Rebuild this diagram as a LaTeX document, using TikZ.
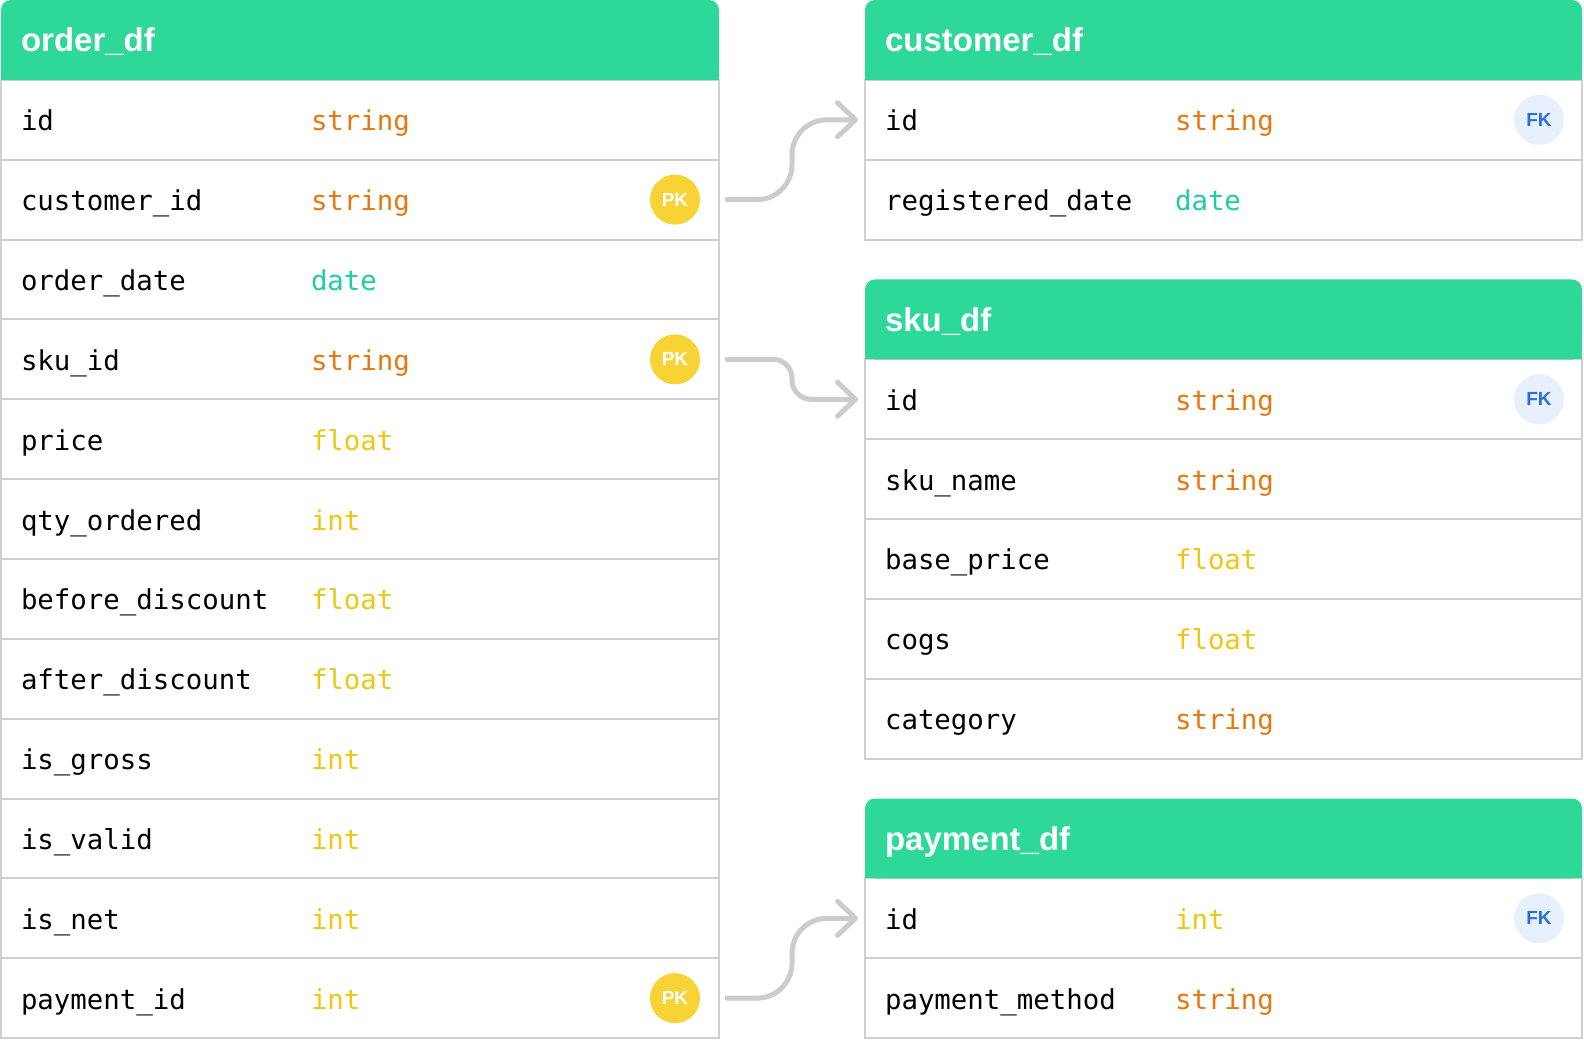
\documentclass[tikz,border=0pt]{standalone}
\usepackage{fontspec}
\setsansfont{Liberation Sans}
\setmonofont{DejaVu Sans Mono}
\usepackage{tikz}
\usetikzlibrary{arrows.meta}

\definecolor{hdrgreen}{HTML}{2ED898}
\definecolor{rowline}{HTML}{CFCFCF}
\definecolor{linkgray}{HTML}{CCCCCC}
\definecolor{tstring}{HTML}{E8770E}
\definecolor{tdate}{HTML}{1ECDA6}
\definecolor{tfloat}{HTML}{EDC714}
\definecolor{tint}{HTML}{EDC714}
\definecolor{pkyellow}{HTML}{F7D335}
\definecolor{fkblue}{HTML}{2A6FDB}
\definecolor{fkbg}{HTML}{E8F0FD}

\begin{document}
\begin{tikzpicture}[x=0.5pt, y=-0.5pt,
	tbl head/.style={fill=hdrgreen, text=white, anchor=north west, rounded corners=5pt,
		font=\sffamily\bfseries\fontsize{16.5}{19}\selectfont, text height=12pt, text depth=0pt,
		inner xsep=10pt, inner ysep=0pt, outer sep=0pt, minimum height=39.925pt, text width=#1, align=left},
	field/.style={draw=rowline, line width=1pt, fill=white, anchor=north west, outer sep=0pt,
		font=\ttfamily\fontsize{13.7}{16}\selectfont, text height=11pt, text depth=0pt,
		inner xsep=10pt, inner ysep=0pt, minimum height=39.925pt, text width=#1, align=left},
	badge/.style={circle, minimum size=25pt, inner sep=0pt, font=\sffamily\bfseries\fontsize{9.5}{10}\selectfont},
	pk/.style={badge, fill=pkyellow, text=white},
	fk/.style={badge, fill=fkbg, text=fkblue},
	link/.style={draw=linkgray, line width=2.5pt, line cap=round, rounded corners=#1,
		-{Straight Barb[length=9pt, width=17pt, round]}}]

	\path [fill=white] (0,0) rectangle (1584,1040);

	\foreach \fname/\ftype [count=\i] in {id/string, customer\_id/string, order\_date/date, sku\_id/string,
		price/float, qty\_ordered/int, before\_discount/float, after\_discount/float,
		is\_gross/int, is\_valid/int, is\_net/int, payment\_id/int}
		\node [field=339pt] (o\i) at (1,\i*79.85) {\makebox[145pt][l]{\fname}\textcolor{t\ftype}{\ftype}};
	\node [tbl head=339pt] (oh) at (1,0) {order\_df};

	\foreach \fname/\ftype [count=\i] in {id/string, registered\_date/date}
		\node [field=338.5pt] (c\i) at (865,\i*79.85) {\makebox[145pt][l]{\fname}\textcolor{t\ftype}{\ftype}};
	\node [tbl head=338.5pt] (ch) at (865,0) {customer\_df};

	\foreach \fname/\ftype [count=\i] in {id/string, sku\_name/string, base\_price/float, cogs/float, category/string}
		\node [field=338.5pt] (s\i) at (865,3.5*79.85+\i*79.85) {\makebox[145pt][l]{\fname}\textcolor{t\ftype}{\ftype}};
	\node [tbl head=338.5pt] (sh) at (865,3.5*79.85) {sku\_df};

	\foreach \fname/\ftype [count=\i] in {id/int, payment\_method/string}
		\node [field=338.5pt] (p\i) at (865,10*79.85+\i*79.85) {\makebox[145pt][l]{\fname}\textcolor{t\ftype}{\ftype}};
	\node [tbl head=338.5pt] (ph) at (865,10*79.85) {payment\_df};

	\foreach \h in {oh,ch,sh,ph} {
		\fill [hdrgreen] (\h.south west) rectangle +(10,-10);
		\fill [hdrgreen] (\h.south east) rectangle +(-10,-10);
	}

	\node [pk] (pk1) at ([xshift=-22pt]o2.east) {PK};
	\node [pk] (pk2) at ([xshift=-22pt]o4.east) {PK};
	\node [pk] (pk3) at ([xshift=-22pt]o12.east) {PK};
	\node [fk] (fk1) at ([xshift=-21.5pt]c1.east) {FK};
	\node [fk] (fk2) at ([xshift=-21.5pt]s1.east) {FK};
	\node [fk] (fk3) at ([xshift=-21.5pt]p1.east) {FK};

	\draw [link=17.5pt] ([xshift=4pt]o2.east) -- ++(65,0) |- ([xshift=-3.5pt]c1.west);
	\draw [link=9.5pt] ([xshift=4pt]o4.east) -- ++(65,0) |- ([xshift=-3.5pt]s1.west);
	\draw [link=17.5pt] ([xshift=4pt]o12.east) -- ++(65,0) |- ([xshift=-3.5pt]p1.west);
\end{tikzpicture}
\end{document}
